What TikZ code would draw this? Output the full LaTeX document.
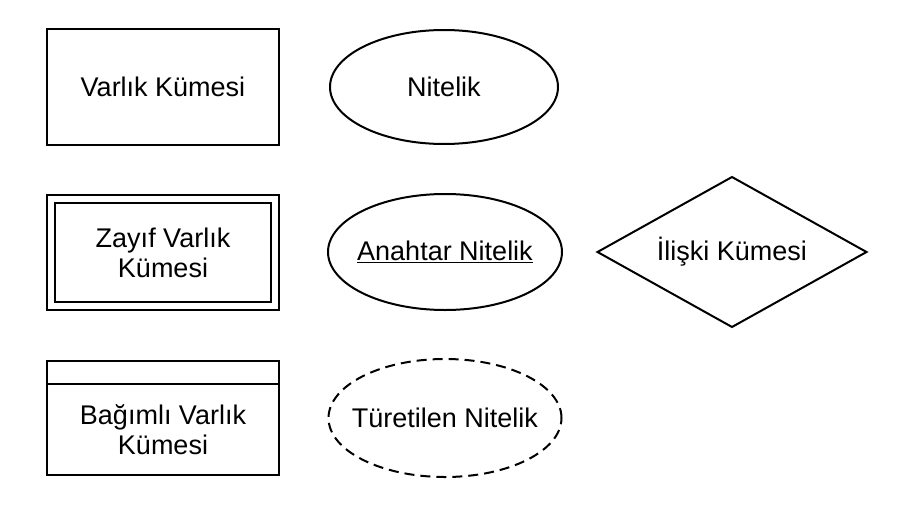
\documentclass[tikz,border=0pt]{standalone}
\usepackage{fontspec}
\setmainfont{Liberation Sans}
\usetikzlibrary{shapes.geometric}
\begin{document}
\begin{tikzpicture}[x=1pt,y=-1pt,
  every node/.style={font=\fontsize{27}{30}\selectfont, align=center, inner sep=0pt, outer sep=0pt},
  entbox/.style={draw, line width=2pt, rectangle, minimum width=232pt, minimum height=116pt},
  weakbox/.style={draw, line width=2pt, rectangle, double, double distance=6pt, minimum width=224pt, minimum height=107pt},
  attr/.style={draw, line width=2pt, ellipse, minimum width=232pt, minimum height=116pt},
  relshape/.style={draw, line width=2pt, diamond, aspect=1.79, minimum width=269pt, minimum height=150pt}
]
\useasboundingbox (0,0) rectangle (905,506);
% Row 1
\node[entbox] (varlik) at (163,87) {Varlık Kümesi};
\node[attr, minimum width=228pt, minimum height=114pt] (nitelik) at (444,87) {\makebox[0pt]{Nitelik}};
% Row 2
\node[weakbox] (zayif) at (163,252.5) {Zayıf Varlık\\Kümesi};
\node[attr, minimum width=234pt] (anahtar) at (445,252) {\makebox[0pt]{\underline{Anahtar Nitelik}}};
\node[relshape] (iliski) at (732,252) {İlişki Kümesi};
% Row 3
\node[entbox, minimum height=114pt] (bagimli) at (163,418) {};
\coordinate (sepL) at (47,384);
\coordinate (sepR) at (279,384);
\draw[line width=2pt] (sepL) -- (sepR);
\node (bagimlitext) at (163,430) {Bağımlı Varlık\\Kümesi};
\node[attr, dashed, dash pattern=on 10pt off 6pt, minimum width=233pt, minimum height=118pt] (turetilen) at (445,418) {\makebox[0pt]{Türetilen Nitelik}};
\end{tikzpicture}
\end{document}
